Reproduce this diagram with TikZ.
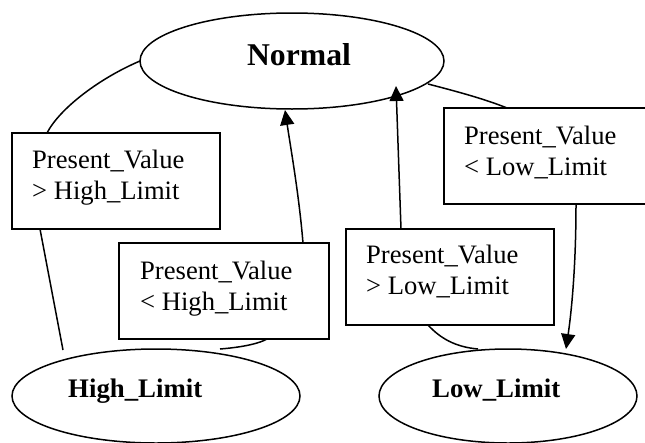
\documentclass[tikz,border=0pt]{standalone}
\usepackage{fontspec}
\setmainfont{Liberation Serif}
\usetikzlibrary{shapes.geometric,arrows.meta,calc}
\tikzset{
  ell/.style={ellipse, draw, line width=1.5pt, inner sep=0pt, outer sep=0pt},
  boxnode/.style={rectangle, draw, line width=1.8pt, anchor=north west, inner sep=0pt, outer sep=0pt, minimum height=96pt},
  boxtext/.style={anchor=base west, align=left, inner sep=0pt, font=\fontsize{26.6}{31}\selectfont},
  boldlbl/.style={anchor=base west, inner sep=0pt, font=\fontsize{26.8}{31}\selectfont\bfseries},
  conn/.style={line width=1.5pt},
  arr/.style={line width=1.5pt, -{Triangle[length=15pt,width=14pt]}}
}
\begin{document}
\begin{tikzpicture}[x=1pt,y=-1pt]
\useasboundingbox (0,0) rectangle (645,442);
\clip (0,0) rectangle (645,442);
% ellipses
\node[ell, minimum width=304pt, minimum height=96pt] (normal) at (292,61) {};
\node[ell, minimum width=288pt, minimum height=94pt] (high) at (156,396) {};
\node[ell, minimum width=258pt, minimum height=94pt] (low) at (508,396) {};
\node[anchor=base, inner sep=0pt, font=\fontsize{31.7}{36}\selectfont\bfseries] (normaltxt) at (299,65) {Normal};
\node[boldlbl] (hightxt) at (68,397) {High\_Limit};
\node[boldlbl] (lowtxt) at (432,397) {Low\_Limit};
% boxes
\node[boxnode, minimum width=208pt] (b1) at (12,133) {};
\node[boxnode, minimum width=210pt] (b2) at (119,243) {};
\node[boxnode, minimum width=214pt] (b3) at (444,108) {};
\node[boxnode, minimum width=208pt] (b4) at (346,229) {};
\node[boxtext] (t1) at (32,199) {Present\_Value\\> High\_Limit};
\node[boxtext] (t2) at (140,310) {Present\_Value\\< High\_Limit};
\node[boxtext] (t3) at (464,175) {Present\_Value\\< Low\_Limit};
\node[boxtext] (t4) at (366,294) {Present\_Value\\> Low\_Limit};
% connectors
\draw[conn] (normal.west) .. controls (100,78) and (60,108) .. ($(b1.north west)+(35,0)$);
\draw[conn] ($(b1.south west)+(28,0)$) -- ($(high.center)+(-93,-46)$);
\draw[conn] ($(high.center)+(64,-47)$) .. controls (245,347) and (260,343) .. ($(b2.south west)+(148,0)$);
\draw[arr] ($(b2.north west)+(184,0)$) .. controls (299,195) and (291,150) .. ($(normal.center)+(-7,49)$);
\draw[arr] ($(b4.north west)+(55,0)$) -- ($(normal.center)+(104,25)$);
\draw[conn] ($(normal.center)+(136,23)$) .. controls (455,91) and (485,99) .. ($(b3.north west)+(63,0)$);
\draw[arr] ($(b3.south west)+(132,0)$) .. controls (576,270) and (571,315) .. ($(low.center)+(58,-47)$);
\draw[conn] ($(b4.south west)+(82,0)$) .. controls (440,338) and (455,347) .. ($(low.center)+(-30,-47)$);
\end{tikzpicture}
\end{document}
